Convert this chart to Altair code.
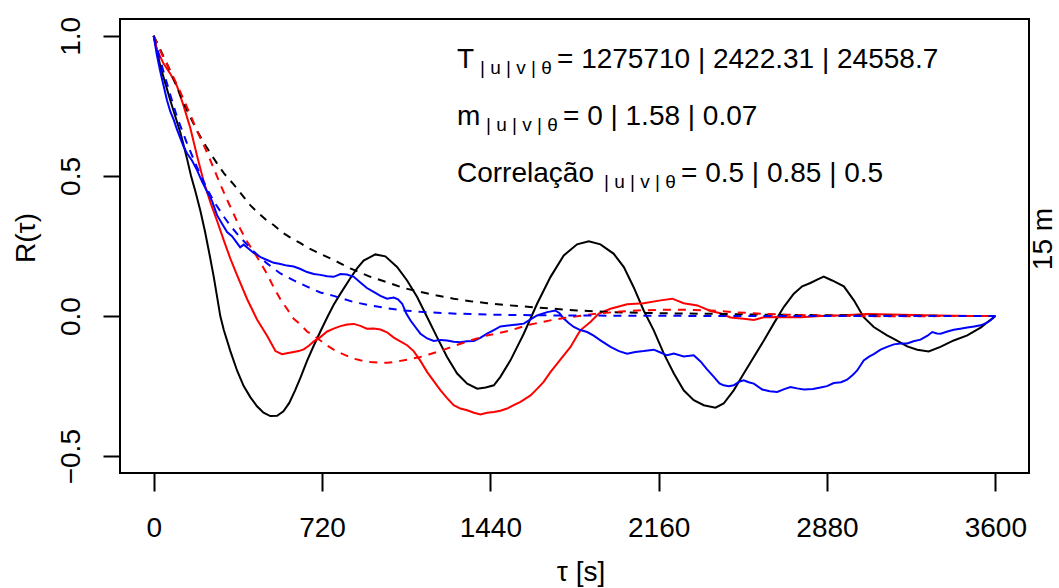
import altair as alt
import pandas as pd

# Autocorrelation R(tau) of u, v and theta at 15 m (solid) and fitted models (dashed)

tau_u = [0, 29, 71, 114, 128, 143, 160, 180, 200, 220, 240, 257, 271, 285, 300, 328, 357, 385,
         414, 442, 470, 499, 528, 555, 580, 605, 628, 656, 685, 713, 742, 770, 799, 841, 870, 898,
         948, 991, 1041, 1084, 1127, 1170, 1212, 1255, 1298, 1341, 1384, 1420, 1455, 1483, 1526,
         1583, 1640, 1697, 1754, 1811, 1861, 1911, 1968, 2011, 2053, 2096, 2139, 2182, 2225, 2267,
         2310, 2353, 2403, 2438, 2481, 2524, 2567, 2610, 2652, 2695, 2738, 2774, 2809, 2838, 2866,
         2902, 2952, 2995, 3037, 3080, 3137, 3166, 3223, 3266, 3315, 3365, 3422, 3480, 3537, 3600]
r_u = [1.0, 0.89, 0.77, 0.655, 0.61, 0.56, 0.50, 0.44, 0.375, 0.30, 0.215, 0.14, 0.07, 0.0,
       -0.05, -0.125, -0.195, -0.25, -0.29, -0.322, -0.345, -0.357, -0.356, -0.34, -0.31, -0.265,
       -0.22, -0.16, -0.105, -0.055, -0.005, 0.04, 0.08, 0.135, 0.17, 0.198, 0.22, 0.213, 0.175,
       0.127, 0.068, -0.004, -0.075, -0.146, -0.205, -0.241, -0.259, -0.255, -0.247, -0.217,
       -0.158, -0.063, 0.044, 0.139, 0.216, 0.256, 0.267, 0.256, 0.222, 0.175, 0.103, 0.02, -0.051,
       -0.134, -0.205, -0.265, -0.30, -0.318, -0.327, -0.312, -0.265, -0.205, -0.146, -0.087,
       -0.027, 0.032, 0.08, 0.106, 0.118, 0.13, 0.141, 0.127, 0.106, 0.056, -0.004, -0.039, -0.069,
       -0.081, -0.108, -0.12, -0.126, -0.11, -0.087, -0.069, -0.041, 0.0]

tau_v = [0, 14, 43, 71, 100, 128, 157, 186, 214, 243, 271, 300, 328, 357, 400, 442, 485, 521,
         549, 575, 599, 620, 642, 665, 685, 713, 742, 770, 799, 827, 856, 884, 912, 941, 970, 998,
         1027, 1055, 1084, 1112, 1141, 1170, 1198, 1227, 1255, 1283, 1312, 1341, 1370, 1398, 1426,
         1455, 1483, 1512, 1540, 1569, 1612, 1640, 1668, 1697, 1726, 1754, 1783, 1811, 1825, 1868,
         1904, 1954, 2025, 2096, 2168, 2218, 2267, 2325, 2382, 2424, 2467, 2524, 2567, 2610, 2667,
         2767, 2852, 2952, 3052, 3200, 3350, 3500, 3600]
r_v = [1.0, 0.95, 0.90, 0.865, 0.82, 0.75, 0.67, 0.57, 0.48, 0.405, 0.34, 0.27, 0.205, 0.145,
       0.06, -0.012, -0.07, -0.125, -0.136, -0.132, -0.128, -0.125, -0.119, -0.105, -0.09, -0.075,
       -0.055, -0.045, -0.036, -0.03, -0.028, -0.035, -0.045, -0.044, -0.048, -0.058, -0.077,
       -0.09, -0.104, -0.125, -0.16, -0.20, -0.232, -0.265, -0.293, -0.318, -0.33, -0.336, -0.345,
       -0.351, -0.345, -0.342, -0.338, -0.33, -0.318, -0.306, -0.283, -0.26, -0.235, -0.2, -0.17,
       -0.14, -0.11, -0.07, -0.051, -0.021, 0.009, 0.026, 0.042, 0.046, 0.056, 0.062, 0.046, 0.038,
       0.018, 0.01, -0.005, -0.01, -0.014, -0.004, -0.003, -0.004, 0.0, 0.003, 0.007, 0.005, 0.002,
       0.0, 0.0]

tau_t = [0, 14, 29, 43, 57, 71, 86, 100, 114, 128, 143, 164, 186, 207, 228, 250, 271, 292, 314,
         335, 357, 370, 385, 400, 428, 457, 485, 514, 542, 570, 599, 628, 656, 685, 713, 742, 770,
         799, 827, 856, 884, 912, 941, 970, 998, 1027, 1045, 1063, 1080, 1098, 1120, 1141, 1170,
         1198, 1227, 1255, 1283, 1312, 1340, 1369, 1397, 1426, 1455, 1483, 1526, 1555, 1583, 1612,
         1640, 1683, 1718, 1736, 1754, 1775, 1797, 1825, 1854, 1882, 1911, 1954, 1990, 2025, 2060,
         2096, 2139, 2168, 2196, 2225, 2267, 2310, 2339, 2367, 2396, 2420, 2438, 2460, 2481, 2503,
         2524, 2545, 2567, 2603, 2635, 2667, 2700, 2724, 2752, 2781, 2820, 2852, 2880, 2909, 2940,
         2966, 2990, 3009, 3037, 3060, 3080, 3109, 3137, 3166, 3194, 3223, 3250, 3280, 3310, 3330,
         3350, 3366, 3395, 3422, 3450, 3480, 3510, 3537, 3560, 3580, 3600]
r_t = [1.0, 0.93, 0.87, 0.82, 0.77, 0.73, 0.70, 0.665, 0.635, 0.605, 0.58, 0.555, 0.52, 0.48,
       0.445, 0.41, 0.36, 0.33, 0.30, 0.285, 0.26, 0.245, 0.255, 0.245, 0.225, 0.21, 0.20, 0.19,
       0.186, 0.18, 0.177, 0.168, 0.157, 0.15, 0.147, 0.142, 0.14, 0.15, 0.148, 0.14, 0.12, 0.10,
       0.086, 0.072, 0.062, 0.066, 0.06, 0.044, 0.01, -0.015, -0.04, -0.063, -0.08, -0.089, -0.085,
       -0.087, -0.092, -0.093, -0.09, -0.089, -0.078, -0.063, -0.05, -0.037, -0.033, -0.03, -0.027,
       -0.012, 0.002, 0.014, 0.02, 0.01, -0.009, -0.025, -0.039, -0.05, -0.057, -0.07, -0.087,
       -0.11, -0.125, -0.134, -0.128, -0.125, -0.12, -0.13, -0.14, -0.134, -0.144, -0.14, -0.162,
       -0.19, -0.217, -0.24, -0.247, -0.25, -0.247, -0.235, -0.229, -0.236, -0.241, -0.262, -0.268,
       -0.271, -0.26, -0.253, -0.258, -0.262, -0.26, -0.255, -0.25, -0.239, -0.236, -0.227, -0.21,
       -0.194, -0.158, -0.145, -0.136, -0.12, -0.11, -0.101, -0.098, -0.098, -0.09, -0.084, -0.07,
       -0.057, -0.062, -0.063, -0.055, -0.049, -0.045, -0.041, -0.037, -0.033, -0.025, -0.015, 0.0]

# fitted models
tau_fu = [0, 29, 57, 86, 128, 157, 186, 228, 271, 300, 342, 371, 414, 442, 485, 513, 556, 585,
          628, 656, 713, 770, 841, 927, 998, 1070, 1141, 1212, 1283, 1355, 1426, 1497, 1569, 1668,
          1811, 1954, 2168, 2382, 2600, 2880, 3240, 3600]
r_fu = [1.0, 0.95, 0.90, 0.845, 0.76, 0.71, 0.66, 0.60, 0.545, 0.51, 0.47, 0.44, 0.395, 0.372,
        0.34, 0.325, 0.295, 0.28, 0.26, 0.245, 0.222, 0.20, 0.17, 0.14, 0.121, 0.10, 0.086, 0.073,
        0.062, 0.053, 0.046, 0.04, 0.035, 0.029, 0.02, 0.014, 0.01, 0.008, 0.005, 0.003, 0.001, 0.0]

tau_fv = [0, 29, 57, 86, 114, 157, 186, 214, 243, 285, 314, 342, 371, 400, 428, 457, 485, 513,
          542, 571, 599, 628, 656, 685, 713, 742, 770, 799, 827, 856, 884, 927, 970, 998, 1027,
          1070, 1105, 1141, 1177, 1212, 1248, 1283, 1319, 1355, 1390, 1426, 1462, 1497, 1526, 1569,
          1612, 1668, 1711, 1761, 1811, 1868, 1925, 1997, 2068, 2150, 2239, 2310, 2382, 2481, 2580,
          2695, 2850, 3000, 3200, 3400, 3600]
r_fv = [1.0, 0.945, 0.90, 0.85, 0.80, 0.718, 0.66, 0.61, 0.555, 0.47, 0.415, 0.365, 0.31, 0.265,
        0.23, 0.19, 0.15, 0.103, 0.06, 0.025, -0.01, -0.03, -0.055, -0.07, -0.087, -0.105, -0.12,
        -0.132, -0.142, -0.152, -0.158, -0.164, -0.166, -0.167, -0.164, -0.158, -0.152, -0.146,
        -0.137, -0.128, -0.118, -0.107, -0.097, -0.087, -0.078, -0.069, -0.063, -0.057, -0.051,
        -0.04, -0.03, -0.02, -0.013, -0.006, -0.001, 0.006, 0.011, 0.016, 0.02, 0.022, 0.023, 0.022,
        0.02, 0.014, 0.009, 0.005, 0.002, 0.0, -0.001, 0.0, 0.0]

tau_ft = [0, 21, 43, 71, 100, 143, 186, 228, 257, 300, 328, 371, 428, 485, 542, 599, 656, 713,
          770, 856, 927, 998, 1070, 1141, 1248, 1355, 1500, 1750, 2100, 2600, 3600]
r_ft = [1.0, 0.935, 0.87, 0.79, 0.71, 0.615, 0.53, 0.455, 0.41, 0.355, 0.322, 0.28, 0.23, 0.188,
        0.152, 0.127, 0.105, 0.084, 0.072, 0.05, 0.038, 0.028, 0.02, 0.015, 0.01, 0.007, 0.004,
        0.002, 0.001, 0.0, 0.0]

x_ticks = [0, 720, 1440, 2160, 2880, 3600]
y_ticks = [-0.5, 0.0, 0.5, 1.0]

FONT = "Liberation Sans"

x_enc = alt.X(
    "tau:Q",
    scale=alt.Scale(domain=[-144, 3744], nice=False, zero=False),
    axis=alt.Axis(values=x_ticks, format="d", title=None, tickSize=18, tickWidth=2,
                  tickColor="black", labelPadding=45, labelBaseline="alphabetic",
                  labelFontSize=28, labelFont=FONT, labelColor="black", domain=False,
                  grid=False, labelFlush=False, labelOverlap=False),
)
y_enc = alt.Y(
    "R:Q",
    scale=alt.Scale(domain=[-0.56, 1.06], nice=False, zero=False),
    axis=alt.Axis(values=y_ticks, format=".1f", title=None, tickSize=17, tickWidth=2,
                  tickColor="black", labelAngle=270, labelAlign="center",
                  labelBaseline="alphabetic", labelPadding=24, labelFontSize=28,
                  labelFont=FONT, labelColor="black", domain=False, grid=False,
                  labelFlush=False, labelOverlap=False),
)

series = [
    (tau_u, r_u, "black", None),
    (tau_v, r_v, "#ff0000", None),
    (tau_t, r_t, "#0000ff", None),
    (tau_fu, r_fu, "black", [8, 7]),
    (tau_fv, r_fv, "#ff0000", [8, 7]),
    (tau_ft, r_ft, "#0000ff", [8, 7]),
]

layers = []
for tau, r, col, dash in series:
    df = pd.DataFrame({"tau": tau, "R": r})
    mark_args = dict(color=col, strokeWidth=2, clip=True)
    if dash is not None:
        mark_args["strokeDash"] = dash
    layers.append(alt.Chart(df).mark_line(**mark_args).encode(x=x_enc, y=y_enc))


def label(text, x, y, size=28, angle=0, align="left"):
    return alt.Chart(alt.Data(values=[{"k": 0}])).mark_text(
        text=text, x=x, y=y, fontSize=size, font=FONT, color="black",
        align=align, baseline="alphabetic", angle=angle,
    )


layers += [
    label("T", 337, 49),
    label("| u | v | θ", 360, 55, size=19),
    label("= 1275710 | 2422.31 | 24558.7", 437, 49),
    label("m", 337, 106),
    label("| u | v | θ", 366, 112, size=19),
    label("= 0 | 1.58 | 0.07", 443, 106),
    label("Correlação", 337, 163),
    label("| u | v | θ", 484, 169, size=19),
    label("= 0.5 | 0.85 | 0.5", 561, 163),
    label("τ [s]", 461, 562, align="center"),
    label("R(τ)", -85, 219, angle=270, align="center"),
    label("15 m", 932, 220, angle=270, align="center"),
]

chart = (
    alt.layer(*layers)
    .properties(
        width=909,
        height=454,
        padding={"left": 120, "top": 19, "right": 30, "bottom": 115},
        autosize=alt.AutoSizeParams(type="none"),
        background="white",
    )
    .configure_view(stroke="black", strokeWidth=2)
)

chart.save("out.html", embed_options={"renderer": "svg", "actions": False})
